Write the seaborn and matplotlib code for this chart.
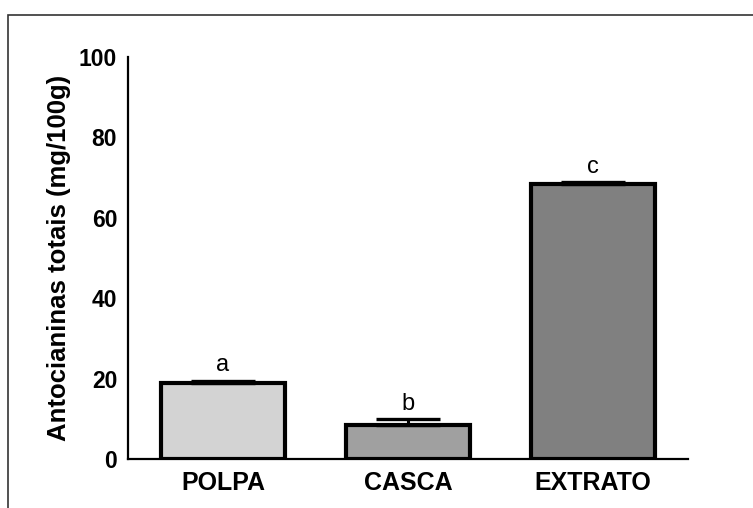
import matplotlib
matplotlib.use("Agg")
import matplotlib.pyplot as plt
import seaborn as sns
import pandas as pd
from matplotlib.patches import Rectangle

# Data
categories = ["POLPA", "CASCA", "EXTRATO"]
means = [19.0, 8.4, 68.4]
errors = [0.5, 1.5, 0.5]
letters = ["a", "b", "c"]
bar_colors = ["#d3d3d3", "#a0a0a0", "#808080"]
y_ticks = [0, 20, 40, 60, 80, 100]

sns.set_theme(style="white")
plt.rcParams["font.family"] = ["Liberation Sans", "DejaVu Sans"]
plt.rcParams["font.weight"] = "bold"
plt.rcParams["text.color"] = "black"
plt.rcParams["axes.labelcolor"] = "black"
plt.rcParams["xtick.color"] = "black"
plt.rcParams["ytick.color"] = "black"

df = pd.DataFrame({"amostra": categories, "antocianinas": means})

fig = plt.figure(figsize=(7.53, 5.08), dpi=100)
ax = fig.add_axes([128 / 753, 1 - 459 / 508, 560 / 753, 402 / 508])

sns.barplot(data=df, x="amostra", y="antocianinas", hue="amostra",
            palette=bar_colors, order=categories, hue_order=categories,
            width=0.67, edgecolor="black", linewidth=3.0, legend=False,
            errorbar=None, ax=ax, zorder=2)

# Upper-only error bars
ax.errorbar(range(len(categories)), means, yerr=[[0] * 3, errors],
            fmt="none", ecolor="black", elinewidth=2.2, capsize=23,
            capthick=2.4, zorder=3)

# Significance letters
for i, (m, e, l) in enumerate(zip(means, errors, letters)):
    ax.text(i, m + e + 2.3, l, ha="center", va="baseline",
            fontsize=17, fontweight="normal", color="black")

ax.set_xlim(-0.514, 2.514)
ax.set_ylim(0, 100)
ax.set_yticks(y_ticks)
ax.set_xlabel("")
ax.set_ylabel("Antocianinas totais (mg/100g)", fontsize=18.5,
              fontweight="bold", labelpad=6, color="black")

for side in ["top", "right"]:
    ax.spines[side].set_visible(False)
for side in ["left", "bottom"]:
    ax.spines[side].set_linewidth(1.6)
    ax.spines[side].set_color("black")

ax.tick_params(axis="both", which="major", direction="out", length=5.8,
               width=1.6, color="black", labelcolor="black")
ax.tick_params(axis="x", labelsize=18, pad=3)
ax.tick_params(axis="y", labelsize=16.5, pad=2)
for lab in ax.get_xticklabels() + ax.get_yticklabels():
    lab.set_fontweight("bold")
ax.grid(False)

# Outer frame
fig.patches.append(Rectangle((8 / 753, -0.1), 1.2, 1 - 15 / 508 + 0.1,
                             transform=fig.transFigure, fill=False,
                             edgecolor="#333333", linewidth=1.2))

fig.savefig("out.png", dpi=100)
